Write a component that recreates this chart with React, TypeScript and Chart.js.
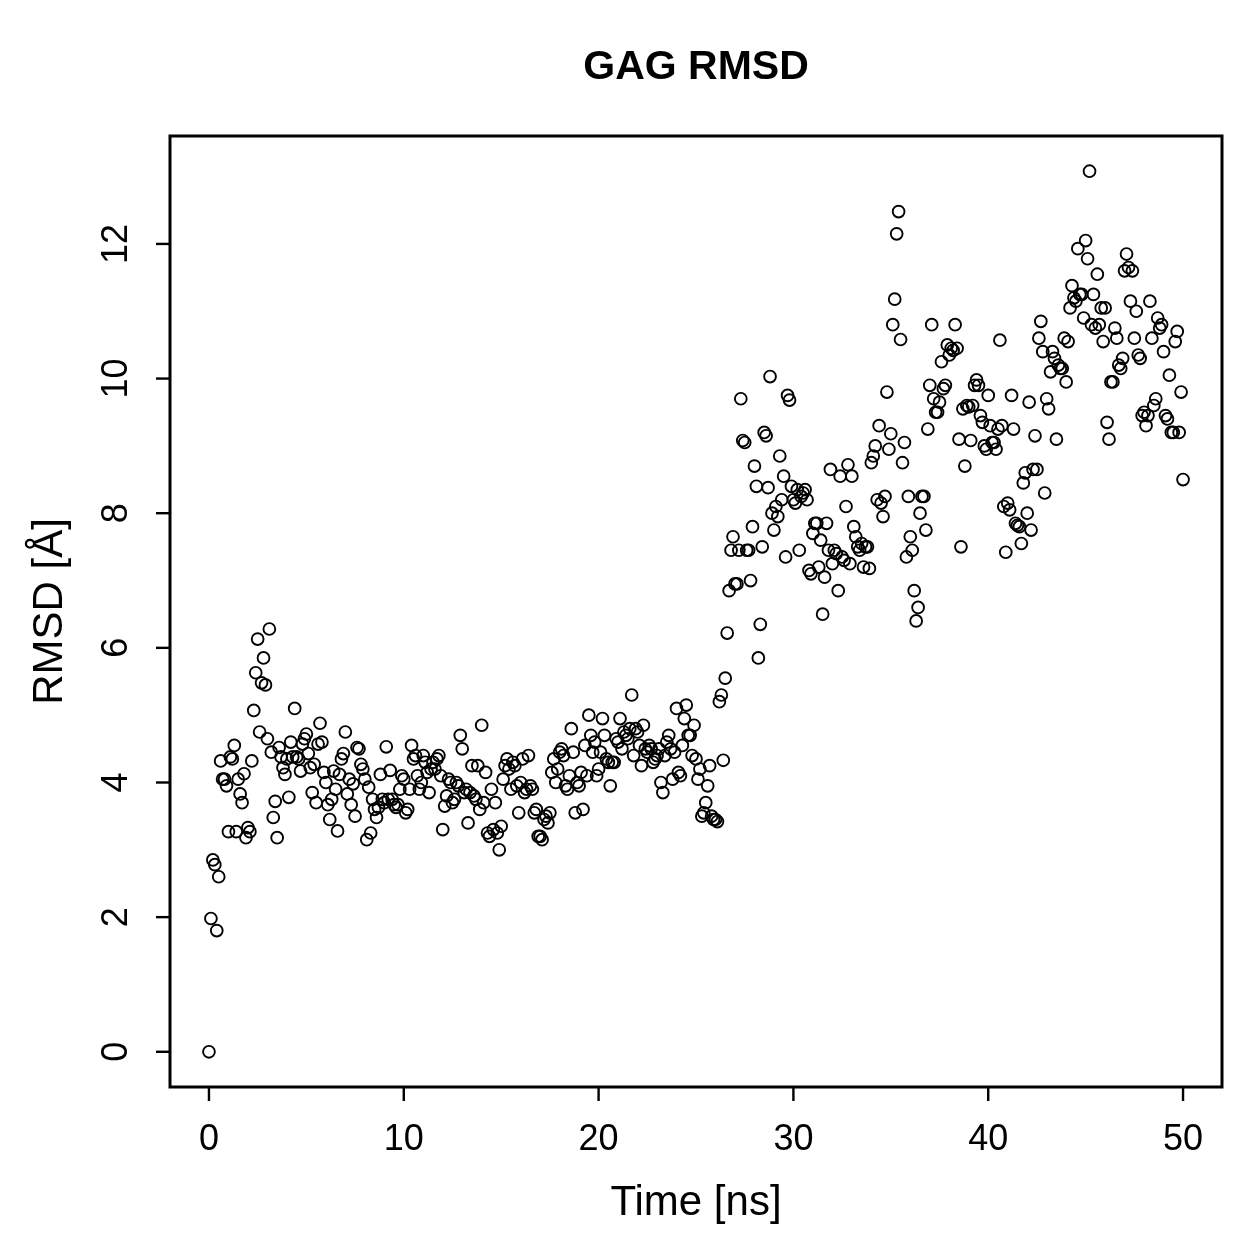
import React, { useEffect, useRef } from "react";
import { Chart, registerables } from "chart.js";

Chart.register(...registerables);

// Sampling interval of the trajectory frames
const TIME_STEP_NS = 0.1;

// RMSD values (Å), one frame every 0.1 ns, grouped per nanosecond
const rmsd0to10 = [
  0, 1.98, 2.85, 2.78, 1.8, 2.6, 4.32, 4.05, 4.05, 3.95,
  3.27, 4.38, 4.35, 4.55, 3.27, 4.05, 3.83, 3.7, 4.13, 3.18,
  3.33, 3.27, 4.32, 5.07, 5.63, 6.13, 4.75, 5.48, 5.85, 5.45,
  4.65, 6.28, 4.45, 3.48, 3.72, 3.18, 4.52, 4.38, 4.22, 4.12,
  4.35, 3.78, 4.6, 4.38, 5.1, 4.38, 4.35, 4.17, 4.57, 4.65,
  4.72, 4.43, 4.22, 3.85, 4.27, 3.7, 4.57, 4.88, 4.6, 4.15,
  4.0, 3.67, 3.45, 3.75, 4.17, 3.9, 3.28, 4.12, 4.35, 4.43,
  4.75, 3.83, 4.05, 3.67, 3.98, 3.5, 4.52, 4.5, 4.27, 4.2,
  4.05, 3.15, 3.93, 3.25, 3.75, 3.6, 3.48, 3.63, 4.12, 3.75,
  3.7, 4.53, 3.75, 4.18, 3.75, 3.67, 3.63, 3.67, 3.9, 4.1,
];

const rmsd10to20 = [
  4.05, 3.55, 3.6, 3.9, 4.55, 4.35, 4.4, 4.1, 3.9, 4.0,
  4.4, 4.3, 4.15, 3.85, 4.2, 4.3, 4.2, 4.35, 4.4, 4.1,
  3.3, 3.65, 3.8, 4.05, 4.0, 3.7, 3.75, 4.0, 3.95, 4.7,
  4.5, 3.85, 3.9, 3.4, 3.85, 4.25, 3.8, 3.75, 4.25, 3.6,
  4.85, 3.7, 4.15, 3.25, 3.2, 3.9, 3.3, 3.7, 3.25, 3.0,
  3.35, 4.05, 4.25, 4.35, 4.2, 3.9, 4.3, 4.25, 3.95, 3.55,
  4.0, 4.35, 3.85, 3.9, 4.4, 3.95, 3.9, 3.55, 3.6, 3.2,
  3.2, 3.15, 3.45, 3.5, 3.4, 3.55, 4.15, 4.35, 4.0, 4.2,
  4.45, 4.5, 4.4, 3.95, 3.9, 4.1, 4.8, 4.45, 3.55, 4.0,
  3.95, 4.15, 3.6, 4.55, 4.1, 5.0, 4.7, 4.45, 4.6, 4.1,
];

const rmsd20to30 = [
  4.2, 4.45, 4.95, 4.7, 4.35, 4.3, 3.95, 4.3, 4.3, 4.65,
  4.6, 4.95, 4.5, 4.75, 4.7, 4.65, 4.8, 5.3, 4.4, 4.8,
  4.75, 4.55, 4.25, 4.85, 4.5, 4.45, 4.55, 4.5, 4.3, 4.35,
  4.4, 4.5, 4.0, 3.85, 4.4, 4.6, 4.7, 4.5, 4.05, 4.45,
  5.1, 4.15, 4.1, 4.55, 4.95, 5.15, 4.7, 4.7, 4.4, 4.85,
  4.35, 4.05, 4.2, 3.5, 3.55, 3.7, 3.95, 4.25, 3.5, 3.45,
  3.45, 3.42, 5.2, 5.3, 4.33, 5.55, 6.22, 6.85, 7.45, 7.65,
  6.95, 6.95, 7.45, 9.7, 9.08, 9.05, 7.45, 7.45, 7.0, 7.8,
  8.7, 8.4, 5.85, 6.35, 7.5, 9.2, 9.15, 8.38, 10.03, 8.0,
  7.75, 8.1, 7.95, 8.85, 8.2, 8.55, 7.35, 9.75, 9.68, 8.4,
];

const rmsd30to40 = [
  8.2, 8.15, 8.35, 7.45, 8.25, 8.3, 8.35, 8.2, 7.15, 7.1,
  7.7, 7.85, 7.85, 7.2, 7.6, 6.5, 7.05, 7.85, 7.45, 8.65,
  7.25, 7.45, 7.4, 6.85, 8.55, 7.35, 7.3, 8.1, 8.72, 7.25,
  8.55, 7.8, 7.65, 7.5, 7.45, 7.55, 7.2, 7.5, 7.5, 7.18,
  8.75, 8.85, 9.0, 8.2, 9.3, 8.15, 7.95, 8.25, 9.8, 8.95,
  9.18, 10.8, 11.18, 12.15, 12.48, 10.58, 8.75, 9.05, 7.35, 8.25,
  7.65, 7.45, 6.85, 6.4, 6.6, 8.0, 8.25, 8.25, 7.75, 9.25,
  9.9, 10.8, 9.7, 9.5, 9.5, 9.65, 10.25, 9.85, 9.9, 10.5,
  10.35, 10.45, 10.42, 10.8, 10.45, 9.1, 7.5, 9.55, 8.7, 9.6,
  9.58, 9.08, 9.6, 9.9, 9.98, 9.9, 9.45, 9.35, 9.0, 8.95,
];

const rmsd40to50 = [
  9.75, 9.3, 9.05, 9.05, 8.95, 9.25, 10.57, 9.3, 8.1, 7.42,
  8.15, 8.05, 9.75, 9.25, 7.85, 7.82, 7.8, 7.55, 8.45, 8.6,
  8.0, 9.65, 7.75, 8.65, 9.15, 8.65, 10.6, 10.85, 10.4, 8.3,
  9.7, 9.55, 10.1, 10.4, 10.3, 9.1, 10.2, 10.15, 10.15, 10.6,
  9.95, 10.55, 11.05, 11.38, 11.2, 11.15, 11.93, 11.25, 11.25, 10.9,
  12.05, 11.78, 13.08, 10.8, 11.25, 10.75, 11.55, 10.8, 11.05, 10.55,
  11.05, 9.35, 9.1, 9.95, 9.95, 10.75, 10.6, 10.2, 10.15, 10.3,
  11.6, 11.85, 11.65, 11.15, 11.6, 10.6, 11.0, 10.35, 10.3, 9.45,
  9.5, 9.3, 9.45, 11.15, 10.6, 9.6, 9.7, 10.9, 10.75, 10.8,
  10.4, 9.45, 9.4, 10.05, 9.2, 9.2, 10.55, 10.7, 9.2, 9.8,
  8.5,
];

const xTicks = [0, 10, 20, 30, 40, 50];
const yTicks = [0, 2, 4, 6, 8, 10, 12];

const titleText = "GAG RMSD";
const xTitle = "Time [ns]";
const yTitle = "RMSD [Å]";

const FONT = '"Liberation Sans", Arial, Helvetica, sans-serif';

export default function App() {
  const canvasRef = useRef<HTMLCanvasElement | null>(null);

  useEffect(() => {
    const canvas = canvasRef.current;
    if (!canvas) return;
    document.body.style.margin = "0";

    const rmsd = [...rmsd0to10, ...rmsd10to20, ...rmsd20to30, ...rmsd30to40, ...rmsd40to50];
    const points = rmsd.map((v, i) => ({ x: Math.round(i * TIME_STEP_NS * 10) / 10, y: v }));

    // R-style 4% axis extension
    const xs = points.map((p) => p.x);
    const ys = points.map((p) => p.y);
    const xMin = Math.min(...xs), xMax = Math.max(...xs);
    const yMin = Math.min(...ys), yMax = Math.max(...ys);
    const xPad = (xMax - xMin) * 0.04;
    const yPad = (yMax - yMin) * 0.04;

    const axesPlugin = {
      id: "rAxes",
      afterDraw(chart: any) {
        const ctx = chart.ctx as CanvasRenderingContext2D;
        const { left, right, top, bottom } = chart.chartArea;
        const xs = chart.scales.x;
        const ys = chart.scales.y;
        ctx.save();
        ctx.strokeStyle = "#000";
        ctx.fillStyle = "#000";
        ctx.lineWidth = 3;
        ctx.strokeRect(left, top, right - left, bottom - top);

        ctx.lineWidth = 2.4;
        ctx.font = `36px ${FONT}`;
        ctx.textAlign = "center";
        ctx.textBaseline = "middle";
        for (const t of xTicks) {
          const px = xs.getPixelForValue(t);
          ctx.beginPath();
          ctx.moveTo(px, bottom);
          ctx.lineTo(px, bottom + 14);
          ctx.stroke();
          ctx.fillText(String(t), px, bottom + 53);
        }
        for (const t of yTicks) {
          const py = ys.getPixelForValue(t);
          ctx.beginPath();
          ctx.moveTo(left, py);
          ctx.lineTo(left - 14, py);
          ctx.stroke();
          ctx.save();
          ctx.translate(left - 53, py);
          ctx.rotate(-Math.PI / 2);
          ctx.fillText(String(t), 0, 0);
          ctx.restore();
        }

        const cx = (left + right) / 2;
        const cy = (top + bottom) / 2;
        ctx.font = `42px ${FONT}`;
        ctx.fillText(xTitle, cx, bottom + 116);
        ctx.save();
        ctx.translate(left - 120, cy);
        ctx.rotate(-Math.PI / 2);
        ctx.fillText(yTitle, 0, 0);
        ctx.restore();

        ctx.font = `bold 41px ${FONT}`;
        ctx.fillText(titleText, cx, 68);
        ctx.restore();
      },
    };

    const chart = new Chart(canvas, {
      type: "scatter",
      data: {
        datasets: [
          {
            data: points,
            pointStyle: "circle",
            pointRadius: 5.9,
            pointBorderWidth: 1.9,
            pointBorderColor: "#000",
            pointBackgroundColor: "rgba(0,0,0,0)",
            showLine: false,
          },
        ],
      },
      options: {
        responsive: false,
        animation: false,
        devicePixelRatio: 1,
        layout: { padding: { left: 170, top: 136, right: 37, bottom: 172 } },
        plugins: { legend: { display: false }, title: { display: false }, tooltip: { enabled: false } },
        events: [],
        scales: {
          x: { type: "linear", display: false, min: xMin - xPad, max: xMax + xPad },
          y: { type: "linear", display: false, min: yMin - yPad, max: yMax + yPad },
        },
      },
      plugins: [axesPlugin],
    });

    return () => chart.destroy();
  }, []);

  return (
    <div style={{ position: "absolute", left: 0, top: 0, width: 1259, height: 1259, background: "#fff" }}>
      <canvas ref={canvasRef} width={1259} height={1259} style={{ display: "block" }} />
    </div>
  );
}
